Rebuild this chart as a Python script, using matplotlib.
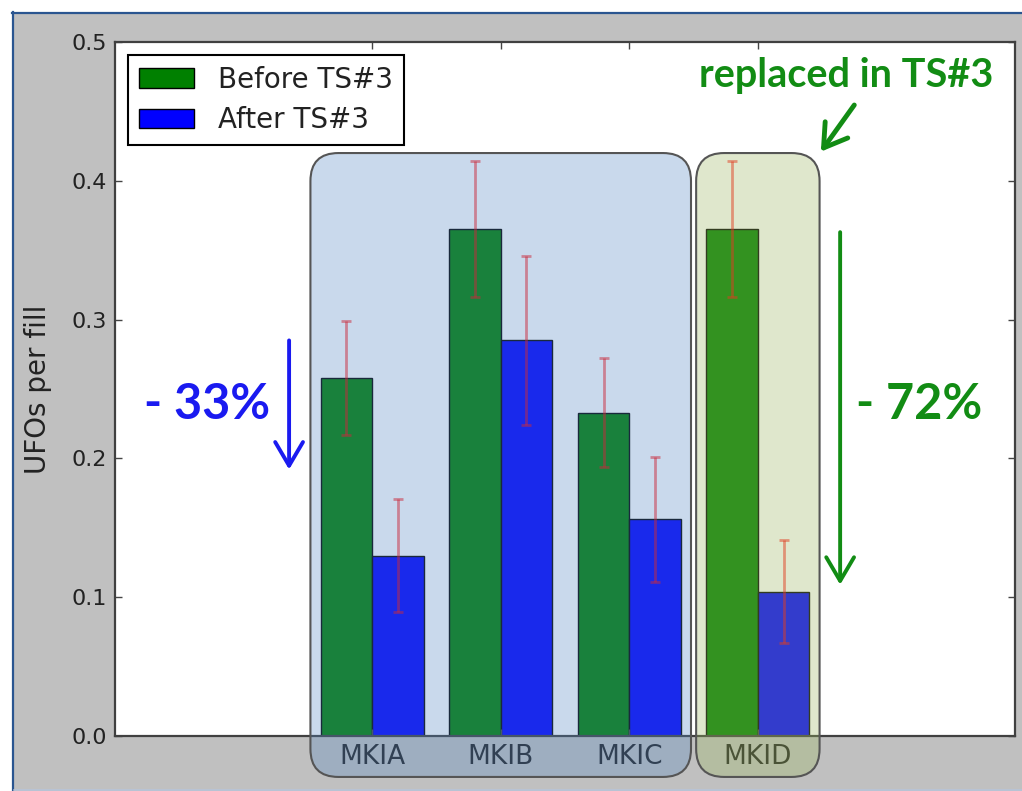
import matplotlib
matplotlib.use('Agg')
import matplotlib.pyplot as plt
from matplotlib.patches import FancyBboxPatch, Rectangle
from matplotlib.lines import Line2D
from matplotlib.transforms import IdentityTransform
from matplotlib.colors import to_rgba
import numpy as np

# ---------------- data ----------------
categories = ['MKIA', 'MKIB', 'MKIC', 'MKID']
before = [0.258, 0.365, 0.233, 0.365]
before_err = [0.041, 0.049, 0.039, 0.049]
after = [0.130, 0.285, 0.156, 0.104]
after_err = [0.041, 0.061, 0.045, 0.037]
yticks = [0.0, 0.1, 0.2, 0.3, 0.4, 0.5]
ytick_labels = ['0.0', '0.1', '0.2', '0.3', '0.4', '0.5']
legend_labels = ['Before TS#3', 'After TS#3']
ylabel = 'UFOs per fill'
notes = ['- 33%', '- 72%', 'replaced in TS#3']

W, H = 1022, 791
fig = plt.figure(figsize=(W / 100, H / 100), dpi=100, facecolor='white')
tf = fig.transFigure

# screenshot-like gray background and blue frame lines
fig.add_artist(Rectangle((14 / W, 2 / H), (W - 14) / W, 775 / H, transform=tf,
                         facecolor='#c0c0c0', edgecolor='none', zorder=-10))
fig.add_artist(Line2D([12 / W, 1], [778.5 / H, 778.5 / H], transform=tf,
                      color='#2a5590', lw=1.6, zorder=-9))
fig.add_artist(Line2D([13 / W, 13 / W], [0, 779 / H], transform=tf,
                      color='#2a5590', lw=1.6, zorder=-9))
fig.add_artist(Line2D([14 / W, 1], [1 / H, 1 / H], transform=tf,
                      color='#aab8cc', lw=1.2, zorder=-9))

ax = fig.add_axes([115 / W, 1 - 736 / H, 900 / W, 694 / H])
ax.set_facecolor('white')

x = np.arange(len(categories))
width = 0.4
ekw = dict(ecolor='red', alpha=0.5, lw=2, capsize=3.5, capthick=2)
ax.bar(x - width / 2, before, width, color='green', edgecolor='black', lw=1,
       yerr=before_err, error_kw=ekw, label=legend_labels[0])
ax.bar(x + width / 2, after, width, color='blue', edgecolor='black', lw=1,
       yerr=after_err, error_kw=ekw, label=legend_labels[1])

ax.set_xlim(-2, 5)
ax.set_ylim(0, 0.5)
ax.set_yticks(yticks)
ax.set_yticklabels(ytick_labels, fontsize=16, color='#222222')
ax.set_xticks(x)
ax.set_xticklabels(categories, fontsize=19, color='#222222')
ax.tick_params(direction='in', top=True, right=True, length=5, width=1, color='#444444')
ax.tick_params(axis='y', pad=6)
ax.tick_params(axis='x', pad=6)
for s in ax.spines.values():
    s.set_linewidth(1.6)
    s.set_color('#404040')

ax.set_ylabel(ylabel, fontsize=20, color='#222222')
ax.yaxis.set_label_coords(-0.07, 0.5)

leg = ax.legend(loc='upper left', fontsize=20, fancybox=False, edgecolor='black',
                borderaxespad=0.45, handlelength=2.0, handletextpad=0.85,
                borderpad=0.4, labelspacing=0.45, framealpha=1)
leg.get_frame().set_linewidth(1.5)
for t in leg.get_texts():
    t.set_color('#222222')

# ---------------- rounded group boxes (drawn over the axes) ----------------
def group_box(x0d, x1d, y0d, y1d, fc, a):
    p0 = ax.transData.transform((x0d, y0d))
    p1 = ax.transData.transform((x1d, y1d))
    box = FancyBboxPatch((p0[0], p0[1]), p1[0] - p0[0], p1[1] - p0[1],
                         boxstyle='round,pad=0,rounding_size=28',
                         transform=IdentityTransform(),
                         facecolor=to_rgba(fc, a), edgecolor='#555555', lw=1.5, zorder=2)
    fig.add_artist(box)

pad = 0.08
group_box(x[0] - width - pad, x[2] + width + pad, -0.0295, 0.42, '#5386c2', 0.31)
group_box(x[3] - width - pad, x[3] + width + pad, -0.0295, 0.42, '#9eb964', 0.33)

# ---------------- annotations ----------------
blue_c = '#1a1af0'
green_c = '#128c14'

ax.text(-1.283, 0.239, notes[0], color=blue_c, fontsize=35, family='Lato',
        weight='bold', ha='center', va='center')
ax.annotate('', xy=(-0.646, 0.192), xytext=(-0.646, 0.285),
            arrowprops=dict(arrowstyle='->,head_length=0.85,head_width=0.5', lw=2.8,
                            color=blue_c, mutation_scale=20, shrinkA=0, shrinkB=0))

ax.text(4.254, 0.2385, notes[1], color=green_c, fontsize=35, family='Lato',
        weight='bold', ha='center', va='center')
ax.annotate('', xy=(3.64, 0.109), xytext=(3.64, 0.363),
            arrowprops=dict(arrowstyle='->,head_length=0.85,head_width=0.5', lw=2.8,
                            color=green_c, mutation_scale=20, shrinkA=0, shrinkB=0))

ax.text(3.685, 0.476, notes[2], color=green_c, fontsize=28.5, family='Lato',
        weight='bold', ha='center', va='center')
ax.annotate('', xy=(3.49, 0.421), xytext=(3.75, 0.4546),
            arrowprops=dict(arrowstyle='->,head_length=0.8,head_width=0.5', lw=3.5,
                            color=green_c, mutation_scale=20, shrinkA=0, shrinkB=0),
            annotation_clip=False)

fig.savefig('out.png', dpi=100, facecolor=fig.get_facecolor())
